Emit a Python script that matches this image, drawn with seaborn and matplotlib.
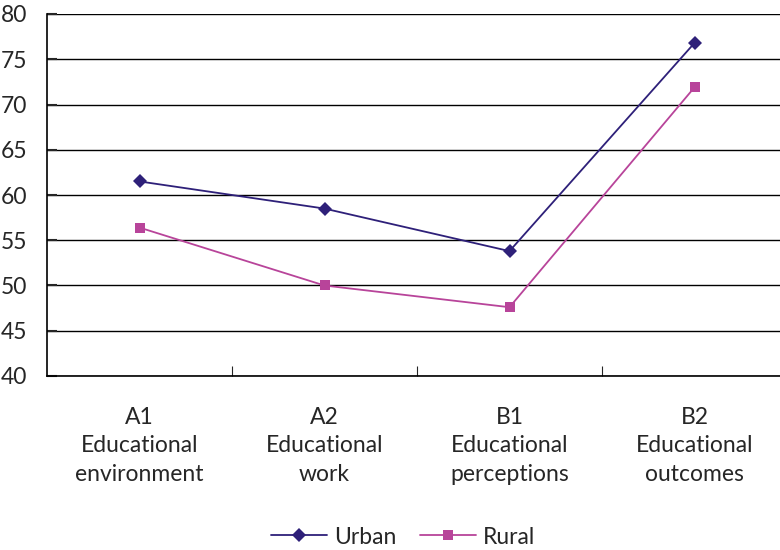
import seaborn as sns
import pandas as pd
import matplotlib.pyplot as plt

categories = ['A1\nEducational\nenvironment', 'A2\nEducational\nwork',
              'B1\nEducational\nperceptions', 'B2\nEducational\noutcomes']
urban = [61.5, 58.5, 53.8, 76.8]
rural = [56.4, 50.0, 47.6, 71.9]

sns.set_style('white')
plt.rcParams['font.family'] = ['Lato', 'DejaVu Sans']

df = pd.DataFrame({
    'pos': list(range(4)) * 2,
    'value': urban + rural,
    'area': ['Urban'] * 4 + ['Rural'] * 4,
})

fig = plt.figure(figsize=(7.8, 5.5), dpi=100)
ax = fig.add_axes([47 / 780, 1 - 376 / 550, 740 / 780, 362 / 550])

palette = {'Urban': '#2E2079', 'Rural': '#B8449A'}
sns.lineplot(data=df, x='pos', y='value', hue='area', style='area',
             markers={'Urban': 'D', 'Rural': 's'}, dashes=False,
             palette=palette, markersize=7, markeredgewidth=0, lw=1.3,
             ax=ax, legend=True)

ax.set_xlim(-0.5, 3.5)
ax.set_ylim(40, 80)
ax.set_yticks(range(40, 81, 5))
ax.yaxis.grid(True, color='black', lw=1)
ax.set_axisbelow(True)

fs = 16.5
ax.set_xticks([0, 1, 2, 3])
ax.set_xticklabels(categories, fontsize=fs, linespacing=1.45)
ax.tick_params(axis='x', length=0, pad=22)
ax.tick_params(axis='y', labelsize=fs, left=True, length=7, width=1.5,
               direction='in', pad=14)
ax.set_xticks([0.5, 1.5, 2.5], minor=True)
ax.tick_params(axis='x', which='minor', bottom=True, length=7, width=0.8, direction='in')
ax.set_xlabel('')
ax.set_ylabel('')

for s in ['top', 'right']:
    ax.spines[s].set_visible(False)
for s in ['left', 'bottom']:
    ax.spines[s].set_color('black')
    ax.spines[s].set_linewidth(1.2)

handles, labels = ax.get_legend_handles_labels()
ax.legend_.remove()
fig.legend(handles, labels, loc='center', bbox_to_anchor=(403 / 780, 1 - 537 / 550),
           ncol=2, frameon=False, fontsize=fs, handlelength=2.45, columnspacing=1.0,
           handletextpad=0.3)

fig.savefig('out.png', dpi=100)
